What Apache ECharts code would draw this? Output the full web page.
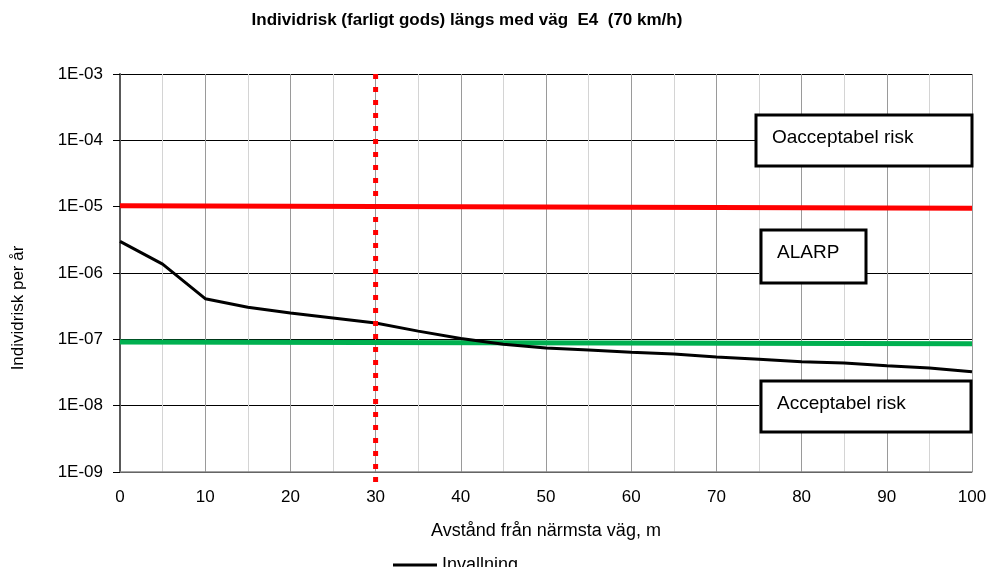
<!DOCTYPE html>
<html>
<head>
<meta charset="utf-8">
<script src="https://cdn.jsdelivr.net/npm/echarts@6/dist/echarts.min.js"></script>
<style>
	html,body{margin:0;padding:0;background:#fff;}
	#chart{width:990px;height:567px;}
</style>
</head>
<body>
<div id="chart"></div>
<script>
	// avstånd (m)
	const distances = [0, 5, 10, 15, 20, 25, 30, 35, 40, 45, 50, 55, 60, 65, 70, 75, 80, 85, 90, 95, 100];
	// Invallning, individrisk per år
	const invallning = [3.0e-6, 1.36e-6, 4.1e-7, 3.05e-7, 2.5e-7, 2.1e-7, 1.76e-7, 1.33e-7, 1.03e-7, 8.4e-8, 7.4e-8, 6.9e-8, 6.4e-8, 6.0e-8, 5.4e-8, 5.0e-8, 4.6e-8, 4.4e-8, 4.0e-8, 3.7e-8, 3.25e-8];
	// kriterielinjer
	const upperLimit = [[0, 1.03e-5], [100, 9.5e-6]];
	const lowerLimit = [[0, 9.1e-8], [100, 8.6e-8]];
	const markerDistance = [[30, 1e-3], [30, 6.5e-10]];
	const yTickLabels = ['1E-09', '1E-08', '1E-07', '1E-06', '1E-05', '1E-04', '1E-03'];

	const font = '"Liberation Sans", Arial, sans-serif';
	const chart = echarts.init(document.getElementById('chart'));

	// textruta med vit bakgrund
	const box = (x, y, w, h, text) => [
		{ type: 'rect', z: 100, shape: { x: x, y: y, width: w, height: h }, style: { fill: '#fff', stroke: '#000', lineWidth: 3 } },
		{ type: 'text', z: 101, x: x + 16, y: y + 23, style: { text: text, fontFamily: font, fontSize: 19, fill: '#000', verticalAlign: 'middle' } }
	];

	const option = {
		animation: false,
		backgroundColor: '#fff',
		title: {
			text: 'Individrisk (farligt gods) längs med väg  E4  (70 km/h)',
			left: 462,
			textAlign: 'center',
			top: 7,
			textStyle: { fontFamily: font, fontSize: 17, fontWeight: 'bold', color: '#000' }
		},
		grid: { left: 120, right: 18, top: 74, bottom: 95 },
		legend: {
			data: ['Invallning'],
			left: 388,
			top: 551,
			icon: 'rect',
			itemWidth: 44,
			itemHeight: 3,
			itemGap: 6,
			textStyle: { fontFamily: font, fontSize: 18, color: '#000' }
		},
		xAxis: {
			type: 'value',
			min: 0,
			max: 100,
			interval: 10,
			name: 'Avstånd från närmsta väg, m',
			nameLocation: 'middle',
			nameGap: 50,
			nameTextStyle: { fontFamily: font, fontSize: 18, color: '#000' },
			axisLine: { show: true, onZero: false, lineStyle: { color: '#868686', width: 1.5 } },
			axisTick: { show: false },
			axisLabel: { margin: 17, fontFamily: font, fontSize: 17, color: '#000' },
			splitLine: { show: true, lineStyle: { color: '#9a9a9a', width: 1 } },
			minorTick: { show: false, splitNumber: 2 },
			minorSplitLine: { show: true, lineStyle: { color: '#d4d4d4', width: 1 } }
		},
		yAxis: {
			type: 'log',
			logBase: 10,
			min: 1e-9,
			max: 1e-3,
			axisLine: { show: true, lineStyle: { color: '#595959', width: 2 } },
			axisTick: { show: true, inside: false, length: 7, lineStyle: { color: '#000' } },
			axisLabel: {
				margin: 17,
				fontFamily: font,
				fontSize: 17,
				color: '#000',
				formatter: function (v) {
					let idx = Math.round(Math.log10(v)) + 9;
					return yTickLabels[idx];
				}
			},
			splitLine: { show: true, lineStyle: { color: '#000', width: 1 } }
		},
		series: [
			{
				name: 'Övre gräns',
				type: 'line',
				data: upperLimit,
				symbol: 'none',
				lineStyle: { color: '#ff0000', width: 5 },
				z: 3
			},
			{
				name: 'Undre gräns',
				type: 'line',
				data: lowerLimit,
				symbol: 'none',
				lineStyle: { color: '#00b050', width: 5 },
				z: 3
			},
			{
				name: 'Invallning',
				type: 'line',
				data: distances.map((d, i) => [d, invallning[i]]),
				symbol: 'none',
				color: '#000',
				lineStyle: { color: '#000', width: 3 },
				z: 4
			},
			{
				name: 'Avstånd 30 m',
				type: 'line',
				data: markerDistance,
				symbol: 'none',
				clip: false,
				lineStyle: { color: '#ff0000', width: 5, type: [5, 8], cap: 'butt' },
				z: 5
			}
		],
		graphic: [
			{
				type: 'text',
				x: 18,
				y: 308,
				rotation: Math.PI / 2,
				style: {
					text: 'Individrisk per år',
					fontFamily: font,
					fontSize: 17,
					fill: '#000',
					align: 'center',
					verticalAlign: 'middle'
				}
			}
		].concat(
			box(756, 115, 216, 51, 'Oacceptabel risk'),
			box(761, 230, 105, 53, 'ALARP'),
			box(761, 381, 210, 51, 'Acceptabel risk')
		)
	};

	chart.setOption(option);
</script>
</body>
</html>
